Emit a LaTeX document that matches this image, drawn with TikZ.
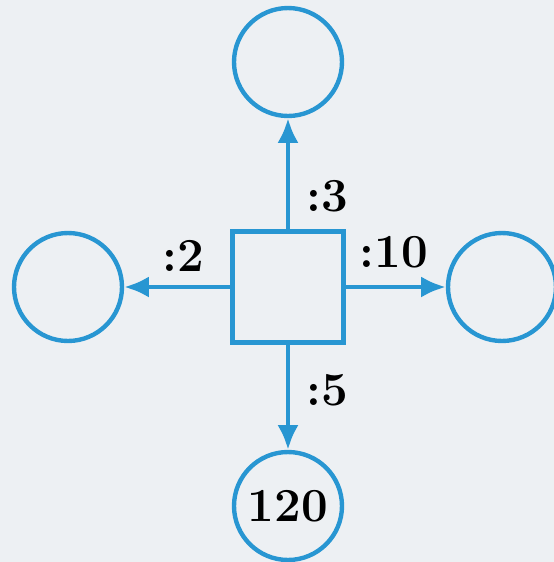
\documentclass[tikz,border=0pt]{standalone}
\usetikzlibrary{arrows.meta}
\definecolor{lineblue}{RGB}{40,150,210}
\definecolor{paper}{RGB}{237,240,243}
\begin{document}
\begin{tikzpicture}[x=0.02cm,y=-0.02cm,
    ring/.style={draw=lineblue,line width=2.5pt,circle,minimum size=2.16cm,inner sep=0pt,font=\fontsize{27}{32}\selectfont\bfseries},
    box/.style={draw=lineblue,line width=2.5pt,minimum size=2.22cm,inner sep=0pt},
    link/.style={draw=lineblue,line width=2.5pt,-{Latex[length=14pt,width=12pt]}},
    lbl/.style={font=\fontsize{27}{32}\selectfont\bfseries}]
    \fill[paper] (0,0) rectangle (554,562);
    \useasboundingbox (0,0) rectangle (554,562);
    \node[box] (sq) at (288,287) {};
    \node[ring] (top) at (288,62) {};
    \node[ring] (lft) at (68,287) {};
    \node[ring] (rgt) at (502,287) {};
    \node[ring] (bot) at (288,506) {120};
    \draw[link] (sq) -- (top) node[lbl,pos=0.3,right=6pt] {:3};
    \draw[link] (sq) -- (lft) node[lbl,pos=0.44,above=4pt] {:2};
    \draw[link] (sq) -- (rgt) node[lbl,pos=0.48,above=6pt] {:10};
    \draw[link] (sq) -- (bot) node[lbl,pos=0.43,right=6pt] {:5};
\end{tikzpicture}
\end{document}
